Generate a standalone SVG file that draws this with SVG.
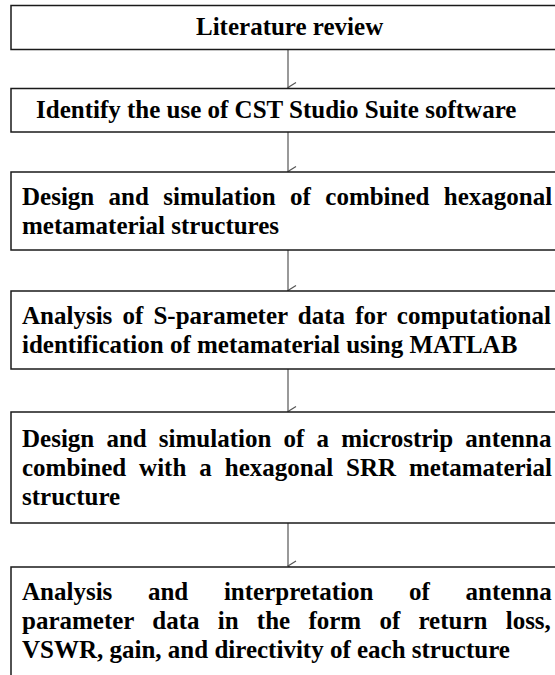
<svg xmlns="http://www.w3.org/2000/svg" width="555" height="675" viewBox="0 0 555 675">
<defs>
<style>
.box{fill:#fff;stroke:#1a1a1a;stroke-width:1.5}
.t{font-family:'Liberation Serif',serif;font-weight:700;font-size:25px;fill:#000}
.conn{stroke:#555;stroke-width:1.2;fill:none}
</style>
<marker id="ah" markerWidth="12" markerHeight="12" refX="6" refY="10" orient="auto" markerUnits="userSpaceOnUse" viewBox="0 0 12 12">
<path d="M1,2 L6,10 L11,2" fill="none" stroke="#555" stroke-width="1.2"/>
</marker>
</defs>
<rect width="555" height="675" fill="#fff"/>
<g id="connectors">
<line class="conn" x1="288" y1="50" x2="288" y2="87.5" marker-end="url(#ah)"/>
<line class="conn" x1="288" y1="132" x2="288" y2="171.5" marker-end="url(#ah)"/>
<line class="conn" x1="288" y1="250" x2="288" y2="290.5" marker-end="url(#ah)"/>
<line class="conn" x1="288" y1="369" x2="288" y2="411.5" marker-end="url(#ah)"/>
<line class="conn" x1="288" y1="523" x2="288" y2="566" marker-end="url(#ah)"/>
</g>
<g id="n1">
<rect class="box" x="11" y="5.5" width="560" height="44"/>
<text class="t" font-family="Liberation Serif, serif" x="196" y="35">Literature review</text>
</g>
<g id="n2">
<rect class="box" x="11" y="88.5" width="560" height="43.5"/>
<text class="t" font-family="Liberation Serif, serif" x="36" y="118">Identify the use of CST Studio Suite software</text>
</g>
<g id="n3">
<rect class="box" x="11" y="172" width="560" height="78"/>
<text class="t" font-family="Liberation Serif, serif" x="22" y="204.5" word-spacing="8.1">Design and simulation of combined hexagonal</text>
<text class="t" font-family="Liberation Serif, serif" x="22" y="233.5">metamaterial structures</text>
</g>
<g id="n4">
<rect class="box" x="11" y="291" width="560" height="78"/>
<text class="t" font-family="Liberation Serif, serif" x="22" y="323.5" word-spacing="3.9">Analysis of S-parameter data for computational</text>
<text class="t" font-family="Liberation Serif, serif" x="22" y="352.5">identification of metamaterial using MATLAB</text>
</g>
<g id="n5">
<rect class="box" x="11" y="412" width="560" height="111"/>
<text class="t" font-family="Liberation Serif, serif" x="22" y="447" word-spacing="5.9">Design and simulation of a microstrip antenna</text>
<text class="t" font-family="Liberation Serif, serif" x="22" y="476" word-spacing="6.7">combined with a hexagonal SRR metamaterial</text>
<text class="t" font-family="Liberation Serif, serif" x="22" y="505">structure</text>
</g>
<g id="n6">
<rect class="box" x="11" y="567" width="560" height="130"/>
<text class="t" font-family="Liberation Serif, serif" x="22" y="599.5" word-spacing="29.4">Analysis and interpretation of antenna</text>
<text class="t" font-family="Liberation Serif, serif" x="22" y="628.5" word-spacing="12">parameter data in the form of return loss,</text>
<text class="t" font-family="Liberation Serif, serif" x="22" y="657.5">VSWR, gain, and directivity of each structure</text>
</g>
</svg>
